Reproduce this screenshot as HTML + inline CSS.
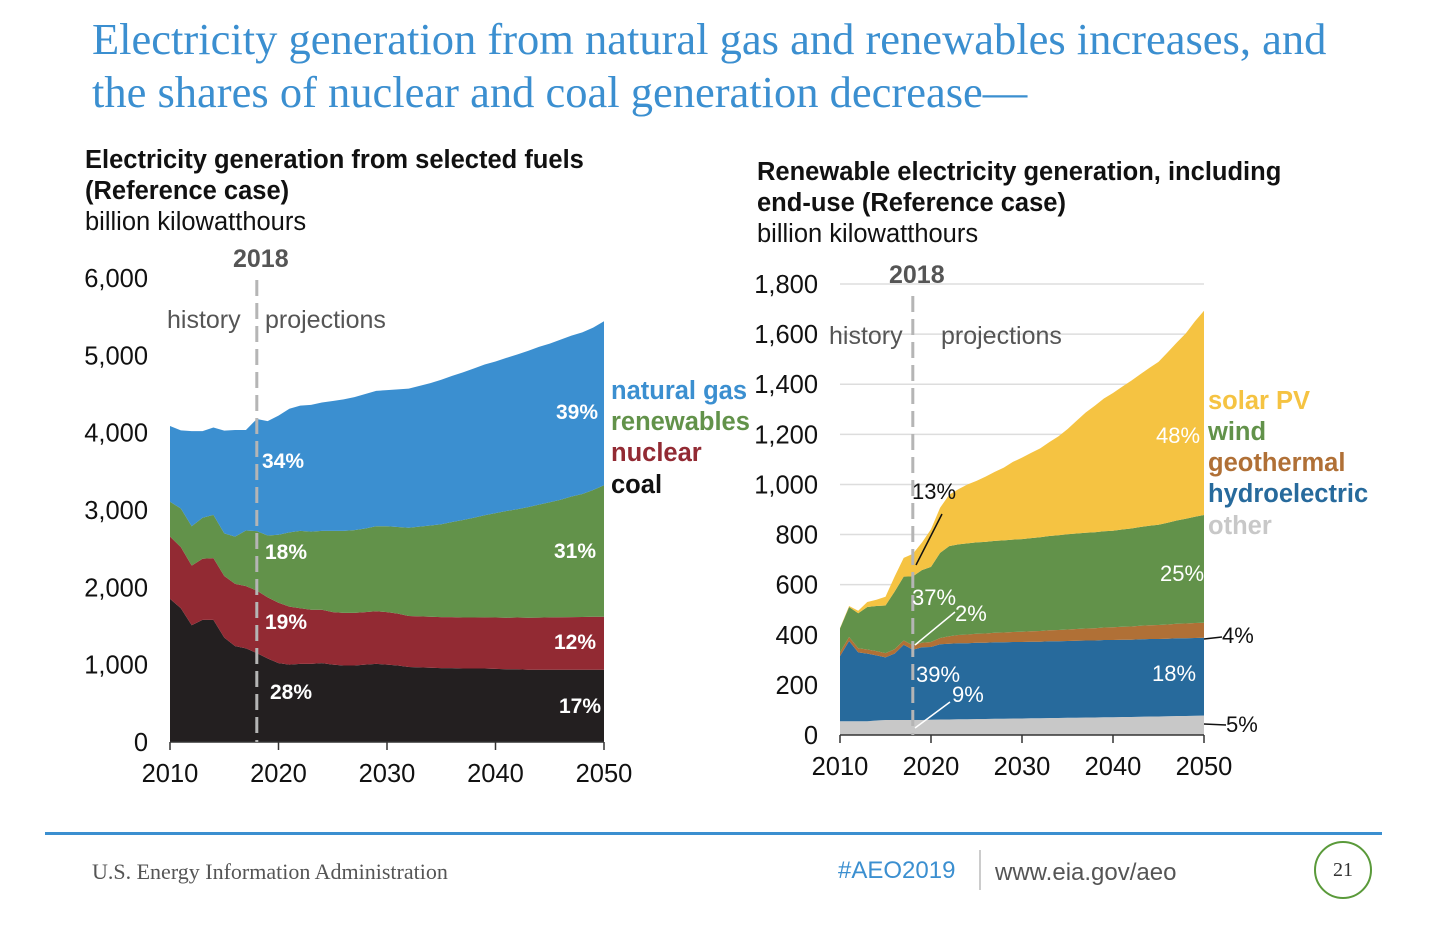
<!DOCTYPE html>
<html><head><meta charset="utf-8">
<style>
body{margin:0;background:#fff;width:1438px;height:929px;overflow:hidden;position:relative;font-family:"Liberation Sans",sans-serif}
.t{position:absolute;white-space:nowrap}
</style></head>
<body>
<div class="t" style="left:92px;top:13px;font-family:'Liberation Serif',serif;font-size:44.5px;line-height:53px;color:#3b8fd0">Electricity generation from natural gas and renewables increases, and<br>the shares of nuclear and coal generation decrease—</div>
<div class="t" style="left:85px;top:145px;font-size:25.5px;line-height:31px;color:#111"><b>Electricity generation from selected fuels<br>(Reference case)</b><br>billion kilowatthours</div>
<div class="t" style="left:757px;top:157px;font-size:25.5px;line-height:31px;color:#111"><b>Renewable electricity generation, including<br>end-use (Reference case)</b><br>billion kilowatthours</div>
<svg id="s" width="1438" height="929" style="position:absolute;left:0;top:0" font-family="Liberation Sans, sans-serif"></svg>
<div class="t" style="left:45px;top:832px;width:1337px;height:3px;background:#3b8fd0"></div>
<div class="t" style="left:92px;top:859px;font-family:'Liberation Serif',serif;font-size:22px;color:#555">U.S. Energy Information Administration</div>
<div class="t" style="left:838px;top:857px;font-size:24px;color:#3b8fd0">#AEO2019</div>
<div class="t" style="left:979px;top:850px;width:2px;height:40px;background:#ccc"></div>
<div class="t" style="left:995px;top:859px;font-size:24px;color:#555">www.eia.gov/aeo</div>
<div class="t" style="left:1314px;top:841px;width:54px;height:54px;border:2px solid #5a9a3a;border-radius:50%;text-align:center;line-height:54px;font-family:'Liberation Serif',serif;font-size:20px;color:#333">21</div>
<script>
// Left chart data (billion kWh), 2010..2050
const years=[];for(let y=2010;y<=2050;y++)years.push(y);
const coal=[1850,1730,1510,1580,1580,1350,1240,1210,1150,1080,1020,1000,1010,1010,1020,1000,990,990,1000,1010,1000,990,970,965,960,955,955,950,950,950,945,940,940,935,935,935,935,935,935,935,935];
const nuclear=[807,790,770,790,797,797,805,805,807,790,780,750,720,700,690,680,680,680,680,680,680,670,660,660,660,660,660,660,660,662,665,667,670,672,674,676,678,680,682,684,685];
const renewables=[450,500,510,530,560,550,610,720,770,800,880,960,1000,1010,1020,1050,1060,1070,1080,1100,1110,1120,1140,1160,1180,1200,1230,1260,1290,1320,1350,1380,1400,1430,1460,1490,1520,1560,1590,1640,1700];
const naturalGas=[980,1010,1230,1120,1130,1330,1380,1300,1450,1480,1540,1600,1620,1640,1660,1680,1700,1720,1740,1750,1760,1780,1800,1820,1840,1870,1890,1910,1930,1950,1960,1980,2000,2020,2040,2050,2070,2080,2090,2100,2120];
const leftTicks=[0,1000,2000,3000,4000,5000,6000];
const leftTickLabels=["0","1,000","2,000","3,000","4,000","5,000","6,000"];
// Right chart data
const other=[55,55,55,55,58,60,60,60,60,60,61,62,62,63,63,64,64,65,65,66,66,67,67,68,68,69,69,70,70,71,71,72,72,73,74,74,75,76,76,77,78];
const hydro=[260,320,275,270,260,250,265,300,280,290,290,300,302,303,303,304,304,305,305,305,305,305,305,306,306,306,307,307,307,308,308,308,308,309,309,309,309,310,310,310,310];
const geothermal=[15,16,16,16,17,17,17,17,18,18,20,25,30,33,35,36,37,38,39,40,41,42,43,44,45,46,47,48,49,50,51,52,53,54,55,56,57,58,59,60,60];
const wind=[95,120,140,170,180,190,230,255,275,290,300,340,360,362,364,365,366,367,368,369,370,372,374,376,378,380,381,382,383,384,385,388,391,394,397,400,406,412,418,424,430];
const solar=[2,4,10,20,25,35,60,75,90,110,150,180,205,220,235,245,260,275,290,310,325,340,355,375,395,420,450,480,505,530,550,570,590,610,630,650,680,710,740,780,815];
const rightTicks=[0,200,400,600,800,1000,1200,1400,1600,1800];
const rightTickLabels=["0","200","400","600","800","1,000","1,200","1,400","1,600","1,800"];
const xTicks=[2010,2020,2030,2040,2050];

const S=document.getElementById('s');const NS='http://www.w3.org/2000/svg';
function el(t,a,p){const e=document.createElementNS(NS,t);for(const k in a)e.setAttribute(k,a[k]);(p||S).appendChild(e);return e;}
function txt(x,y,s,a,name){const e=el('text',Object.assign({x:x,y:y},a));e.textContent=s;


return e;}

function chart(cfg){
  const X=y=>cfg.x0+(y-2010)/40*(cfg.x1-cfg.x0);
  const Y=v=>cfg.y0-v/cfg.ymax*(cfg.y0-cfg.y1);
  if(cfg.grid){cfg.ticks.forEach(t=>{if(t>0){const g=el('line',{x1:cfg.x0,x2:cfg.x1,y1:Y(t),y2:Y(t),stroke:'#ddd','stroke-width':1.5});
  
  }});}
  let base=years.map(()=>0);
  cfg.series.forEach(s=>{
    const top=base.map((b,i)=>b+s.vals[i]);
    let d='M'+years.map((y,i)=>X(y)+','+Y(top[i])).join('L');
    for(let i=years.length-1;i>=0;i--)d+='L'+X(years[i])+','+Y(base[i]);
    const p=el('path',{d:d+'Z',fill:s.color});
    
    
    base=top;
  });
  const ax=el('line',{x1:cfg.x0,x2:cfg.x1,y1:cfg.y0,y2:cfg.y0,stroke:'#333','stroke-width':1.5});
  
  
  xTicks.forEach(t=>{const tk=el('line',{x1:X(t),x2:X(t),y1:cfg.y0,y2:cfg.y0+8,stroke:'#333','stroke-width':1.5});
    
    
    txt(X(t),cfg.y0+40,String(t),{'font-size':25.5,'text-anchor':'middle',fill:'#111'},'x-tick-label');});
  cfg.ticks.forEach((t,i)=>txt(cfg.lx,Y(t)+9,cfg.labels[i],{'font-size':25.5,'text-anchor':'end',fill:'#111'},'y-tick-label'));
  const dl=el('line',{x1:X(2018),x2:X(2018),y1:cfg.dashTop,y2:cfg.y0,stroke:'#b5b5b5','stroke-width':3,'stroke-dasharray':'16,7'});
  
  
  txt(X(2018)+4,cfg.dashTop-13,'2018',{'font-size':25,'font-weight':'bold','text-anchor':'middle',fill:'#555'},'year-2018-label');
  return {X,Y};
}
const L=chart({x0:170,x1:604,y0:742,y1:278,ymax:6000,ticks:leftTicks,labels:leftTickLabels,lx:148,dashTop:280,grid:false,
 series:[{name:'coal',vals:coal,color:'#231f20'},{name:'nuclear',vals:nuclear,color:'#922a33'},{name:'renewables',vals:renewables,color:'#62924a'},{name:'natural-gas',vals:naturalGas,color:'#3b8fd0'}]});
const R=chart({x0:840,x1:1204,y0:735,y1:284,ymax:1800,ticks:rightTicks,labels:rightTickLabels,lx:818,dashTop:296,grid:true,
 series:[{name:'other',vals:other,color:'#c8c8c8'},{name:'hydroelectric',vals:hydro,color:'#276a9c'},{name:'geothermal',vals:geothermal,color:'#b07036'},{name:'wind',vals:wind,color:'#62924a'},{name:'solar-pv',vals:solar,color:'#f5c342'}]});

const g={'font-size':25,fill:'#555'};
txt(167,328,'history',g,'history-label');txt(265,328,'projections',g,'projections-label');
txt(829,344,'history',g,'history-label');txt(941,344,'projections',g,'projections-label');
const w={'font-size':21,'font-weight':'bold',fill:'#fff'};
[[262,468,'34%'],[556,419,'39%'],[265,559,'18%'],[554,558,'31%'],[265,629,'19%'],[554,649,'12%'],[270,699,'28%'],[559,713,'17%']].forEach(a=>txt(a[0],a[1],a[2],w,'share-label'));
const w2={'font-size':22,fill:'#fff'};
[[1156,443,'48%'],[1160,581,'25%'],[912,605,'37%'],[955,621,'2%'],[1152,681,'18%'],[916,682,'39%'],[952,702,'9%']].forEach(a=>txt(a[0],a[1],a[2],w2,'share-label'));
const b={'font-size':22,fill:'#111'};
txt(912,499,'13%',b,'solar-share-2018');txt(1222,643,'4%',b,'geothermal-share-2050');txt(1226,732,'5%',b,'other-share-2050');
[[942,514,916,565,'#111'],[955,612,915,645,'#fff'],[950,702,915,728,'#fff'],[1204,639,1222,637,'#111'],[1204,724,1226,725,'#111']].forEach(a=>{const l=el('line',{x1:a[0],y1:a[1],x2:a[2],y2:a[3],stroke:a[4],'stroke-width':1.5});
 
 });
const lg={'font-size':25.5,'font-weight':'bold'};
[[399,'natural gas','#3b8fd0'],[430,'renewables','#62924a'],[461,'nuclear','#922a33'],[493,'coal','#111']].forEach(a=>txt(611,a[0],a[1],Object.assign({fill:a[2]},lg),'legend-entry'));
[[409,'solar PV','#f5c342'],[440,'wind','#62924a'],[471,'geothermal','#b07036'],[502,'hydroelectric','#276a9c'],[534,'other','#c8c8c8']].forEach(a=>txt(1208,a[0],a[1],Object.assign({fill:a[2]},lg),'legend-entry'));
</script>
</body></html>
